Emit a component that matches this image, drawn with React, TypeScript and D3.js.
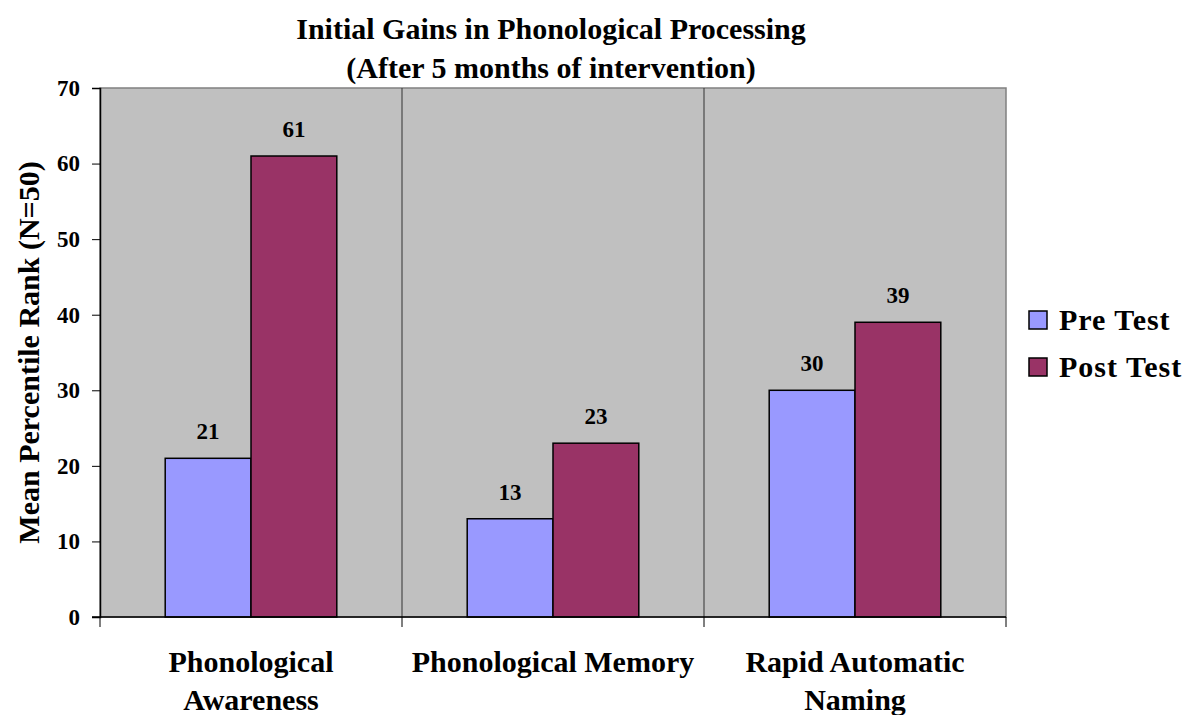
import React, { useRef, useEffect } from 'react';
import * as d3 from 'd3';

const categories: string[][] = [
    ['Phonological', 'Awareness'],
    ['Phonological Memory'],
    ['Rapid Automatic', 'Naming'],
];
const series = ['Pre Test', 'Post Test'];
const preTest = [21, 13, 30];
const postTest = [61, 23, 39];
const yTicks = [0, 10, 20, 30, 40, 50, 60, 70];
const colors = ['#9999FF', '#993366'];

const App: React.FC = () => {
    const svgRef = useRef<SVGSVGElement | null>(null);

    useEffect(() => {
        const svg = d3.select(svgRef.current);
        svg.selectAll('*').remove();

        const font = '"Liberation Serif", "Times New Roman", serif';
        const left = 100, right = 1006, top = 88, bottom = 617;

        const x = d3.scaleBand<number>()
            .domain(d3.range(categories.length))
            .range([left, right])
            .padding(0);
        const xInner = d3.scaleBand<string>()
            .domain(series)
            .range([0, x.bandwidth()])
            .paddingInner(0)
            .paddingOuter(0.76);
        const y = d3.scaleLinear().domain([0, 70]).range([bottom, top]);

        // plot area
        svg.append('rect')
            .attr('x', left)
            .attr('y', top)
            .attr('width', right - left)
            .attr('height', bottom - top)
            .attr('fill', '#C0C0C0')
            .attr('stroke', '#808080')
            .attr('stroke-width', 1.5);

        // category separators
        const bounds = d3.range(categories.length + 1).map(i => left + i * x.step());
        svg.selectAll('.sep')
            .data(bounds.slice(1, -1))
            .enter()
            .append('line')
            .attr('x1', d => d)
            .attr('x2', d => d)
            .attr('y1', top)
            .attr('y2', bottom)
            .attr('stroke', '#333')
            .attr('stroke-width', 1);

        const data = categories.map((c, i) => [
            { s: series[0], v: preTest[i], i },
            { s: series[1], v: postTest[i], i },
        ]).flat();

        svg.selectAll('.bar')
            .data(data)
            .enter()
            .append('rect')
            .attr('x', d => x(d.i)! + xInner(d.s)!)
            .attr('y', d => y(d.v))
            .attr('width', xInner.bandwidth())
            .attr('height', d => y(0) - y(d.v))
            .attr('fill', d => colors[series.indexOf(d.s)])
            .attr('stroke', '#000')
            .attr('stroke-width', 1.5);

        svg.selectAll('.val')
            .data(data)
            .enter()
            .append('text')
            .attr('x', d => x(d.i)! + xInner(d.s)! + xInner.bandwidth() / 2)
            .attr('y', d => y(d.v) - 19)
            .attr('text-anchor', 'middle')
            .style('font-family', font)
            .style('font-weight', 'bold')
            .style('font-size', '23px')
            .text(d => d.v);

        // y axis
        const yAxis = svg.append('g').attr('transform', `translate(${left},0)`)
            .call(d3.axisLeft(y).tickValues(yTicks).tickSize(8).tickPadding(12));
        yAxis.select('.domain').attr('stroke', '#000').attr('stroke-width', 1.5);
        yAxis.selectAll('.tick line').attr('stroke', '#000');
        yAxis.selectAll('text')
            .style('font-family', font)
            .style('font-weight', 'bold')
            .style('font-size', '23px')
            .attr('fill', '#000');

        // x axis line and ticks
        svg.append('line')
            .attr('x1', left - 8).attr('x2', right)
            .attr('y1', bottom).attr('y2', bottom)
            .attr('stroke', '#000').attr('stroke-width', 1.5);
        svg.selectAll('.xtick')
            .data(bounds)
            .enter()
            .append('line')
            .attr('x1', d => d).attr('x2', d => d)
            .attr('y1', bottom).attr('y2', bottom + 10)
            .attr('stroke', '#000');

        // category labels
        categories.forEach((lines, i) => {
            const t = svg.append('text')
                .attr('x', x(i)! + x.bandwidth() / 2)
                .attr('y', 672)
                .attr('text-anchor', 'middle')
                .style('font-family', font)
                .style('font-weight', 'bold')
                .style('font-size', '30px');
            lines.forEach((l, j) => {
                t.append('tspan')
                    .attr('x', x(i)! + x.bandwidth() / 2)
                    .attr('dy', j === 0 ? 0 : 38)
                    .text(l);
            });
        });

        // title
        const title = svg.append('text')
            .attr('text-anchor', 'middle')
            .style('font-family', font)
            .style('font-weight', 'bold')
            .style('font-size', '30px');
        title.append('tspan').attr('x', 551).attr('y', 39).text('Initial Gains in Phonological Processing');
        title.append('tspan').attr('x', 551).attr('y', 78).text('(After 5 months of intervention)');

        // y axis title
        svg.append('text')
            .attr('transform', `translate(39,${(top + bottom) / 2}) rotate(-90)`)
            .attr('text-anchor', 'middle')
            .style('font-family', font)
            .style('font-weight', 'bold')
            .style('font-size', '30px')
            .text('Mean Percentile Rank (N=50)');

        // legend
        const legend = svg.append('g');
        series.forEach((s, i) => {
            legend.append('rect')
                .attr('x', 1029)
                .attr('y', 311 + i * 47)
                .attr('width', 18)
                .attr('height', 18)
                .attr('fill', colors[i])
                .attr('stroke', '#000')
                .attr('stroke-width', 1.5);
            legend.append('text')
                .attr('x', 1059)
                .attr('y', 330 + i * 47)
                .style('font-family', font)
                .style('font-weight', 'bold')
                .style('font-size', '30px')
                .style('letter-spacing', '1px')
                .text(s);
        });
    }, []);

    return (
        <svg ref={svgRef} width={1199} height={715}
            style={{ position: 'absolute', left: 0, top: 0 }}></svg>
    );
};

export default App;
